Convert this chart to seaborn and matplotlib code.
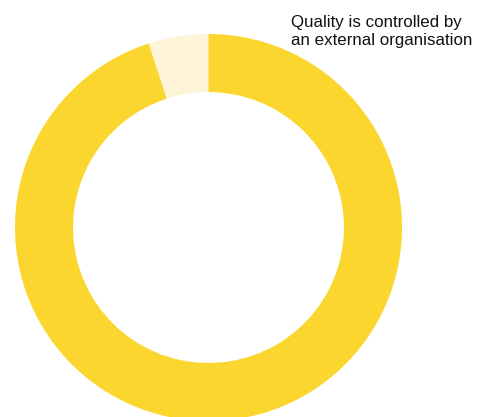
import matplotlib
matplotlib.use("Agg")
import matplotlib.pyplot as plt
import seaborn as sns

# data
labels = ["Quality is controlled by an external organisation", "Other"]
values = [5, 95]
colours = ["#FEF5D8", "#FBD62E"]
annotation = "Quality is controlled by\nan external organisation"

sns.set_theme(style="white")
plt.rcParams['font.family'] = ['Liberation Sans', 'DejaVu Sans']

W, H = 481, 417
fig = plt.figure(figsize=(W / 100, H / 100), dpi=100)
ax = fig.add_axes([0, 0, 1, 1])

# pixel-like data coords: donut centre at (208.5, 227.5) from top-left
cx, cy = 208.5, 227.5
outer = 193.5
ax.pie(values, colors=colours, startangle=90, counterclock=True,
       radius=outer, wedgeprops=dict(width=outer * 0.3, edgecolor="none"))
ax.set_xlim(-cx, W - cx)
ax.set_ylim(-(H - cy), cy)
ax.set_aspect("equal")
ax.axis("off")

fig.text(291 / W, 1 - 15 / H, annotation, ha="left", va="top",
         fontsize=12.2, color="#111111", linespacing=1.26)

fig.savefig("out.png", dpi=100)
